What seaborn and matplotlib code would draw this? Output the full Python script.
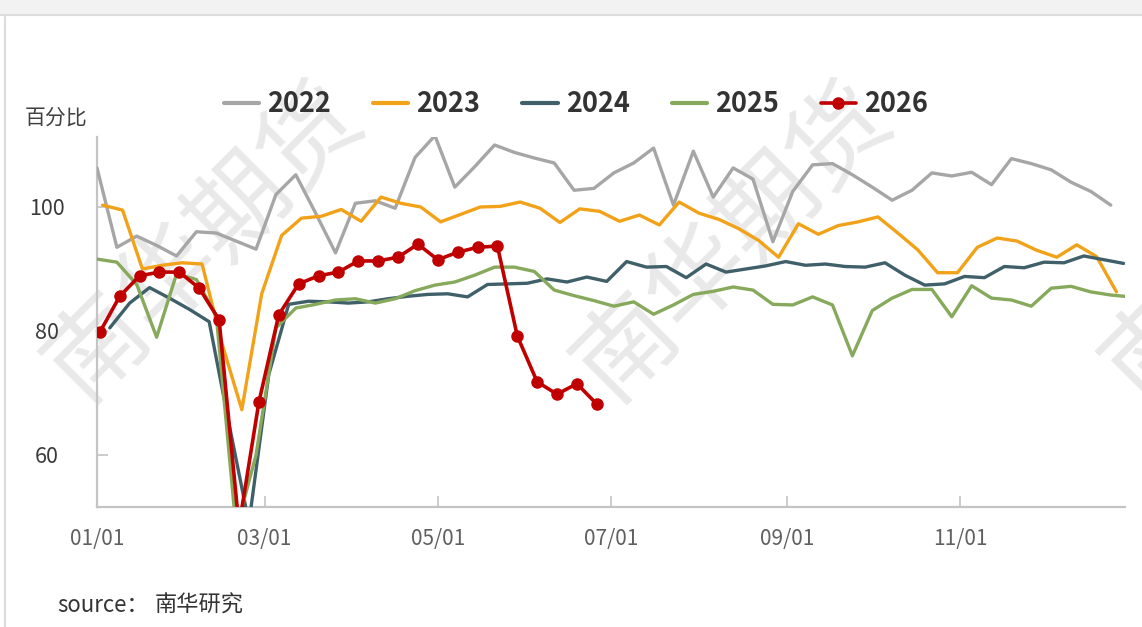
import matplotlib
matplotlib.use("Agg")
import matplotlib.pyplot as plt
import seaborn as sns
from matplotlib.patches import Rectangle
from matplotlib.lines import Line2D

# weekly values, x = day of year
years = ['2022', '2023', '2024', '2025', '2026']
start_day = {'2022': 0, '2023': 2, '2024': 4.5, '2025': 0, '2026': 1}

v2022 = [106.3, 93.5, 95.3, 93.8, 92.1, 96.0, 95.8, 94.5, 93.2, 102.0,
         105.2, 99.0, 92.6, 100.6, 101.0, 99.8, 108.0, 111.5, 103.2, 106.5,
         110.0, 108.8, 107.9, 107.1, 102.7, 103.0, 105.5, 107.1, 109.5, 100.3,
         109.0, 101.6, 106.3, 104.5, 94.4, 102.5, 106.8, 107.0, 105.2, 103.2,
         101.1, 102.7, 105.5, 105.0, 105.6, 103.6, 107.8, 107.0, 106.0, 104.0,
         102.5, 100.3]
v2023 = [100.3, 99.5, 90.0, 90.6, 91.0, 90.8, 78.0, 67.3, 86.0, 95.4,
         98.2, 98.5, 99.6, 97.7, 101.6, 100.6, 100.0, 97.6, 98.8, 100.0,
         100.1, 100.8, 99.8, 97.5, 99.7, 99.3, 97.7, 98.7, 97.1, 100.8,
         99.0, 98.0, 96.5, 94.6, 91.9, 97.3, 95.6, 97.0, 97.6, 98.4,
         95.8, 93.1, 89.4, 89.4, 93.5, 95.0, 94.5, 93.0, 91.9, 93.9,
         92.0, 86.3]
v2024 = [80.5, 84.5, 87.0, 85.3, 83.5, 81.5, 65.0, 49.0, 73.0, 84.3,
         84.8, 84.7, 84.5, 84.7, 85.2, 85.6, 85.9, 86.0, 85.5, 87.5,
         87.6, 87.7, 88.4, 87.9, 88.7, 88.0, 91.2, 90.3, 90.4, 88.6,
         90.8, 89.5, 90.0, 90.5, 91.2, 90.6, 90.8, 90.4, 90.3, 91.0,
         89.0, 87.4, 87.6, 88.8, 88.6, 90.4, 90.2, 91.1, 91.0, 92.1,
         91.5, 90.9]
v2025 = [91.6, 91.1, 87.5, 79.0, 89.2, 88.3, 82.5, 48.0, 60.0, 80.5,
         83.7, 84.3, 85.0, 85.2, 84.5, 85.2, 86.5, 87.4, 87.9, 89.0,
         90.3, 90.3, 89.6, 86.6, 85.7, 84.9, 84.0, 84.7, 82.7, 84.2,
         85.9, 86.4, 87.1, 86.6, 84.3, 84.2, 85.5, 84.2, 76.0, 83.3,
         85.3, 86.7, 86.7, 82.3, 87.3, 85.3, 85.0, 84.0, 86.9, 87.2,
         86.3, 85.8, 85.5]
v2026 = [79.8, 85.6, 88.9, 89.5, 89.5, 86.9, 81.8, 48.5, 68.5, 82.6,
         87.6, 88.9, 89.5, 91.3, 91.3, 91.9, 94.0, 91.5, 92.7, 93.5,
         93.7, 79.2, 71.8, 69.8, 71.5, 68.2]

series = {'2022': v2022, '2023': v2023, '2024': v2024, '2025': v2025, '2026': v2026}
colors = {'2022': '#a6a6a6', '2023': '#f2a218', '2024': '#3f5f69',
          '2025': '#86a95b', '2026': '#c00000'}

tick_days = [0, 59, 120, 181, 243, 304]
tick_labels = ['01/01', '03/01', '05/01', '07/01', '09/01', '11/01']

sns.set_style("ticks")
plt.rcParams['font.family'] = ['Noto Sans CJK SC', 'DejaVu Sans']

W, H = 1142, 627
fig = plt.figure(figsize=(W / 100, H / 100), dpi=100)
fig.patch.set_facecolor('white')

# card frame
fig.patches.append(Rectangle((0, (H - 15) / H), 1, 15 / H, transform=fig.transFigure,
                             facecolor='#f2f2f2', edgecolor='none', zorder=0))
fig.add_artist(Line2D([0, 1], [(H - 15) / H] * 2, color='#dcdcdc', lw=1.5))
fig.add_artist(Line2D([5 / W] * 2, [0, (H - 15) / H], color='#dcdcdc', lw=1.5))

ax = fig.add_axes([97 / W, 120 / H, 1028 / W, 370 / H])
ax.set_facecolor('none')

# watermark
for cx in [204, 733, 1262]:
    ax.text(cx / W, (H - 242) / H, '南华期货', transform=fig.transFigure,
            rotation=45, rotation_mode='anchor', ha='center', va='center',
            fontsize=72, fontweight='light', color='#e9e9e9', zorder=0.5,
            clip_on=False)

handles = []
for yr in years:
    vals = series[yr]
    days = [start_day[yr] + 7 * i for i in range(len(vals))]
    if yr == '2026':
        sns.lineplot(x=days, y=vals, ax=ax, color=colors[yr], lw=2.6,
                     marker='o', markersize=9, markeredgewidth=0, zorder=5)
        handles.append(Line2D([], [], color=colors[yr], lw=2.6, marker='o',
                              markersize=9, markeredgewidth=0))
    else:
        sns.lineplot(x=days, y=vals, ax=ax, color=colors[yr], lw=2.4, zorder=3)
        handles.append(Line2D([], [], color=colors[yr], lw=3))

ax.set_xlim(0, 362)
ax.set_ylim(51.61, 111.29)
ax.set_xticks(tick_days)
ax.set_xticklabels(tick_labels)
ax.set_yticks([60, 80, 100])
ax.set_xlabel('')
ax.set_ylabel('')

for side in ['top', 'right']:
    ax.spines[side].set_visible(False)
for side in ['left', 'bottom']:
    ax.spines[side].set_color('#c4c4c4')
    ax.spines[side].set_linewidth(1.6)

ax.tick_params(axis='x', direction='in', length=8, width=1.2, color='#c4c4c4',
               pad=15, labelsize=15, labelcolor='#606060')
ax.tick_params(axis='y', direction='in', length=8, width=1.2, color='#c4c4c4',
               pad=36, labelsize=15.5, labelcolor='#3a3a3a')
for lbl in ax.get_yticklabels():
    lbl.set_horizontalalignment('center')

fig.text(56 / W, (H - 118) / H, '百分比', ha='center', va='center',
         fontsize=15, color='#404040')

fig.legend(handles, years, loc='center', bbox_to_anchor=(576 / W, (H - 104) / H),
           ncol=5, frameon=False, handlelength=1.3, handletextpad=0.3,
           columnspacing=1.55, prop={'size': 19.5, 'weight': 'bold'},
           labelcolor='#333333')

fig.text(57 / W, (H - 605) / H, 'source：', ha='left', va='center',
         fontsize=16, color='#333333')
fig.text(155 / W, (H - 605) / H, '南华研究', ha='left', va='center',
         fontsize=16, color='#333333', style='italic')

fig.savefig('out.png', dpi=100)
